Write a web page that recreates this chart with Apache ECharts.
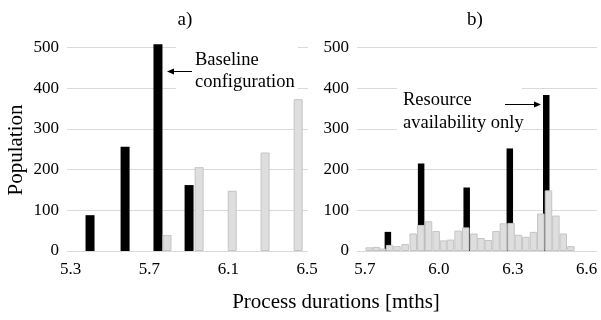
<!DOCTYPE html>
<html>
<head>
<meta charset="utf-8">
<script src="https://cdn.jsdelivr.net/npm/echarts@6/dist/echarts.min.js"></script>
<style>
html,body{margin:0;padding:0;background:#fff;}
#chart{width:601px;height:320px;}
</style>
</head>
<body>
<div id="chart"></div>
<script>
// Panel a) data: [duration, population]
var baselineA = [[5.398, 88], [5.576, 256], [5.743, 508], [5.901, 162]];
var greyA = [[5.789, 39], [5.952, 206], [6.120, 148], [6.287, 242], [6.455, 373]];

// Panel b) data
var resourceB = [[5.795, 47], [5.930, 215], [6.115, 156], [6.290, 252], [6.438, 383]];
var greyBx = [5.717, 5.746, 5.770, 5.800, 5.830, 5.863, 5.896, 5.927, 5.958, 5.989, 6.019, 6.047, 6.078, 6.109,
              6.142, 6.171, 6.201, 6.232, 6.262, 6.293, 6.323, 6.353, 6.384, 6.414, 6.445, 6.475, 6.505, 6.536];
var greyBy = [9, 10, 6, 15, 12, 17, 43, 64, 73, 49, 26, 28, 50, 58,
              43, 32, 27, 49, 68, 69, 40, 35, 47, 92, 149, 87, 43, 12];

var ticksA = [5.3, 5.7, 6.1, 6.5];
var ticksB = [5.7, 6.0, 6.3, 6.6];
var yTicks = [0, 100, 200, 300, 400, 500];

var greyB = greyBx.map(function (x, i) { return [x, greyBy[i]]; });

var FONT = '"Liberation Serif", "Times New Roman", serif';
var GRID_COLOR = '#d9d9d9';

function xAxisDef(idx, min, max, ticks) {
  return {
    type: 'value', gridIndex: idx, min: min, max: max,
    axisLine: { show: false }, axisTick: { show: false }, splitLine: { show: false },
    axisLabel: {
      customValues: ticks, color: '#000', fontFamily: FONT, fontSize: 17, margin: 10,
      formatter: function (v) { return v.toFixed(1); }
    }
  };
}
function yAxisDef(idx) {
  return {
    type: 'value', gridIndex: idx, min: 0, max: 500, interval: 100,
    axisLine: { show: false }, axisTick: { show: false },
    splitLine: { show: true, lineStyle: { color: GRID_COLOR, width: 1 } },
    axisLabel: { color: '#000', fontFamily: FONT, fontSize: 17, margin: 8 }
  };
}

var chart = echarts.init(document.getElementById('chart'), null, { renderer: 'canvas' });
chart.setOption({
  animation: false,
  backgroundColor: '#fff',
  grid: [
    { left: 67, top: 47.5, width: 241, height: 203.5 },
    { left: 357, top: 47.5, width: 240, height: 203.5 }
  ],
  xAxis: [xAxisDef(0, 5.281, 6.505, ticksA), xAxisDef(1, 5.6676, 6.642, ticksB)],
  yAxis: [yAxisDef(0), yAxisDef(1)],
  series: [
    { type: 'bar', xAxisIndex: 0, yAxisIndex: 0, data: baselineA, barWidth: 9, barGap: '-100%', clip: false,
      itemStyle: { color: '#000' } },
    { type: 'bar', xAxisIndex: 0, yAxisIndex: 0, data: greyA, barWidth: 9, barGap: '-100%', clip: false,
      itemStyle: { color: '#dedede', borderColor: '#c4c4c4', borderWidth: 1 } },
    { type: 'bar', xAxisIndex: 1, yAxisIndex: 1, data: resourceB, barWidth: 6.5, barGap: '-100%', clip: false,
      itemStyle: { color: '#000' } },
    { type: 'bar', xAxisIndex: 1, yAxisIndex: 1, data: greyB, barWidth: 7.5, barGap: '-100%', clip: false,
      itemStyle: { color: '#dedede', borderColor: '#c4c4c4', borderWidth: 1 } }
  ],
  graphic: [
    { type: 'text', x: 185, y: 20, style: { text: 'a)', font: '19px ' + FONT, fill: '#000', textAlign: 'center', textVerticalAlign: 'middle' } },
    { type: 'text', x: 475, y: 20, style: { text: 'b)', font: '19px ' + FONT, fill: '#000', textAlign: 'center', textVerticalAlign: 'middle' } },
    { type: 'text', x: 16, y: 150, rotation: Math.PI / 2, style: { text: 'Population', font: '21px ' + FONT, fill: '#000', textAlign: 'center', textVerticalAlign: 'middle' } },
    { type: 'text', x: 336, y: 302, style: { text: 'Process durations [mths]', font: '21px ' + FONT, fill: '#000', textAlign: 'center', textVerticalAlign: 'middle' } },
    // annotation a)
    { type: 'rect', shape: { x: 176, y: 45, width: 122, height: 50 }, style: { fill: '#fff' }, z: 10 },
    { type: 'text', x: 195, y: 60, z: 11, style: { text: 'Baseline', font: '18.5px ' + FONT, fill: '#000', textAlign: 'left', textVerticalAlign: 'middle' } },
    { type: 'text', x: 195, y: 82, z: 11, style: { text: 'configuration', font: '18.5px ' + FONT, fill: '#000', textAlign: 'left', textVerticalAlign: 'middle' } },
    { type: 'line', z: 11, shape: { x1: 192, y1: 71.5, x2: 172, y2: 71.5 }, style: { stroke: '#000', lineWidth: 1 } },
    { type: 'polygon', z: 11, shape: { points: [[167, 71.5], [174, 68.5], [174, 74.5]] }, style: { fill: '#000' } },
    // annotation b)
    { type: 'rect', shape: { x: 397, y: 85, width: 125, height: 50 }, style: { fill: '#fff' }, z: 10 },
    { type: 'text', x: 403, y: 100, z: 11, style: { text: 'Resource', font: '18.5px ' + FONT, fill: '#000', textAlign: 'left', textVerticalAlign: 'middle' } },
    { type: 'text', x: 403, y: 123, z: 11, style: { text: 'availability only', font: '18.5px ' + FONT, fill: '#000', textAlign: 'left', textVerticalAlign: 'middle' } },
    { type: 'line', z: 11, shape: { x1: 505, y1: 104.5, x2: 535, y2: 104.5 }, style: { stroke: '#000', lineWidth: 1 } },
    { type: 'polygon', z: 11, shape: { points: [[541, 104.5], [534, 101.5], [534, 107.5]] }, style: { fill: '#000' } }
  ]
});
</script>
</body>
</html>
